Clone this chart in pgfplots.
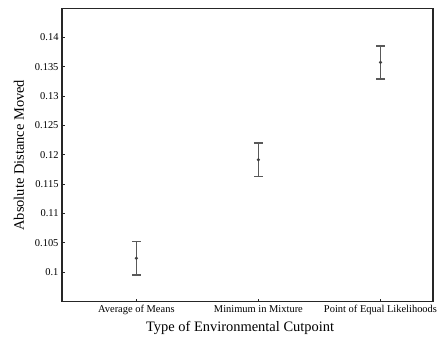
\documentclass[border=0pt]{standalone}
\usepackage{fontspec}
\setmainfont{Liberation Serif}
\usepackage{pgfplots}
\pgfplotsset{compat=1.18}
\begin{document}
\begin{tikzpicture}
\useasboundingbox (-62bp,-35.3bp) rectangle (383bp,301.7bp);
\begin{axis}[
  scale only axis, width=371bp, height=293bp,
  xmin=0.391, xmax=3.43, ymin=0.09493, ymax=0.1449,
  xtick={1,2,3},
  xticklabels={Average of Means, Minimum in Mixture, Point of Equal Likelihoods},
  ytick={0.1,0.105,0.11,0.115,0.12,0.125,0.13,0.135,0.14},
  scaled y ticks=false,
  yticklabel style={/pgf/number format/fixed, /pgf/number format/precision=3},
  /pgf/number format/assume math mode=true,
  tick align=inside, tick pos=left, major tick length=3bp,
  tick style={black!85, line width=0.6bp},
  axis line style={line width=1.1bp, black!85},
  ticklabel style={font=\fontsize{10.5}{12}\selectfont},
  xlabel={Type of Environmental Cutpoint},
  ylabel={Absolute Distance Moved},
  every axis x label/.style={at={(axis description cs:0.48,-0.0887)}, anchor=center, font=\fontsize{14.5}{17}\selectfont},
  every axis y label/.style={at={(axis description cs:-0.1159,0.5)}, anchor=center, rotate=90, font=\fontsize{14.5}{17}\selectfont},
]
\addplot[only marks, mark=*, mark size=0.9bp, black!75, line width=1.2bp,
  error bars/.cd, y dir=both, y explicit,
  error bar style={line width=1.2bp, draw=black!65},
  error mark options={rotate=90, line width=1.2bp, draw=black!65, mark size=4.5bp}]
  coordinates {
    (1,0.10234) +- (0,0.00284)
    (2,0.11915) +- (0,0.00284)
    (3,0.13573) +- (0,0.00282)
  };
\end{axis}
\end{tikzpicture}
\end{document}
